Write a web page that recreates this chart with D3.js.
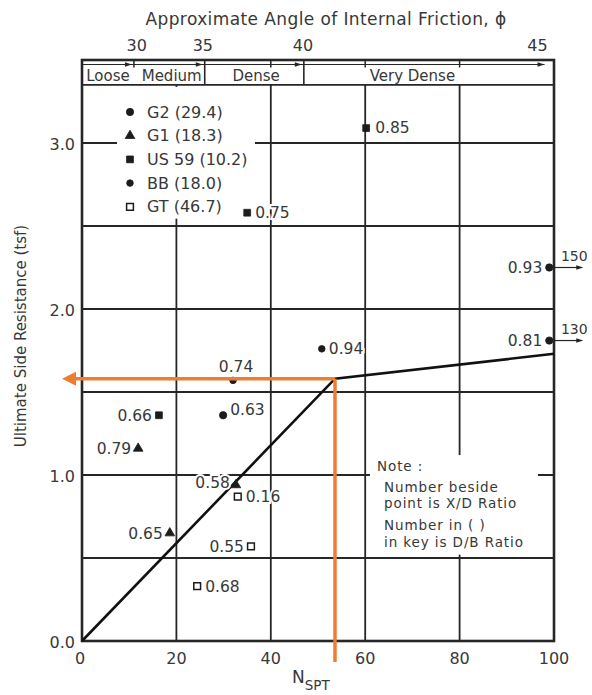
<!DOCTYPE html>
<html>
<head>
<meta charset="utf-8">
<script src="https://cdn.jsdelivr.net/npm/d3@7"></script>
<style>
  body { margin: 0; background: #fff; }
  text { font-family: "DejaVu Sans", "Liberation Sans", sans-serif; fill: #383838; }
</style>
</head>
<body>
<div id="chart"></div>
<script>
// Data
const pointLabels = ["0.85", "0.75", "0.66", "0.79", "0.58", "0.65", "0.16", "0.55", "0.68", "0.93", "0.81", "0.63", "0.94", "0.74"];
const pointSeries = ["US 59", "US 59", "US 59", "G1", "G1", "G1", "GT", "GT", "GT", "G2", "G2", "G2", "BB", "BB"];
const pointN = [60.2, 35.0, 16.3, 11.9, 32.6, 18.6, 33.0, 35.8, 24.4, 99.0, 99.0, 29.9, 50.8, 32.0];
const pointR = [3.09, 2.58, 1.36, 1.16, 0.94, 0.65, 0.87, 0.57, 0.33, 2.25, 1.81, 1.36, 1.76, 1.57];
const actualN = { "0.93": "150", "0.81": "130" };

const keySeries = ["G2", "G1", "US 59", "BB", "GT"];
const keyRatios = ["29.4", "18.3", "10.2", "18.0", "46.7"];

const trendN = [0, 53.6, 100];
const trendR = [0, 1.58, 1.73];
const readN = 53.6, readR = 1.58;

const xTicks = [0, 20, 40, 60, 80, 100];
const yTicks = [0, 1, 2, 3];
const gridX = [20, 40, 60, 80];
const gridY = [0.5, 1, 1.5, 2, 2.5, 3];
const phiTicks = [30, 35, 40, 45];
const phiN = [11.6, 25.6, 46.8, 96.5];
const densityNames = ["Loose", "Medium", "Dense", "Very Dense"];
const densityBounds = [0, 11, 26, 47, 100];

const noteLines = ["Number beside", "point is X/D Ratio", "Number in (  )", "in key is D/B Ratio"];

// Layout
const width = 592, height = 695;
const margin = { top: 60, right: 38, bottom: 54, left: 82 };
const ink = "#262626";
const densityLabelN = [5.5, 19, 36.9, 70];

const svg = d3.select("#chart").append("svg")
    .attr("width", width)
    .attr("height", height);

const x = d3.scaleLinear().domain([0, 100]).range([margin.left, width - margin.right]);
const y = d3.scaleLinear().domain([0, 3.5]).range([height - margin.bottom, margin.top]);
const rowBottom = y(3.35);

// grid
svg.append("g").selectAll("line")
    .data(gridY)
    .enter().append("line")
    .attr("x1", x(0)).attr("x2", x(100))
    .attr("y1", d => y(d)).attr("y2", d => y(d))
    .attr("stroke", ink).attr("stroke-width", 1.8);

svg.append("g").selectAll("line")
    .data(gridX)
    .enter().append("line")
    .attr("x1", d => x(d)).attr("x2", d => x(d))
    .attr("y1", y(0)).attr("y2", rowBottom)
    .attr("stroke", ink).attr("stroke-width", 1.8);

// white boxes for key and note (they hide the grid)
svg.append("rect").attr("x", 117).attr("y", rowBottom + 2).attr("width", 138).attr("height", y(2.52) - rowBottom - 6).attr("fill", "#fff");
svg.append("rect").attr("x", x(61)).attr("y", y(1.12)).attr("width", x(96.6) - x(61)).attr("height", y(0.52) - y(1.12)).attr("fill", "#fff");

// density row at top
const row = svg.append("g");
row.append("line")
    .attr("x1", x(0)).attr("x2", x(100))
    .attr("y1", rowBottom).attr("y2", rowBottom)
    .attr("stroke", ink).attr("stroke-width", 1.8);

const arrowY = margin.top + 4.5;
row.append("line")
    .attr("x1", x(0)).attr("x2", x(98))
    .attr("y1", arrowY).attr("y2", arrowY)
    .attr("stroke", ink).attr("stroke-width", 1);

row.selectAll(".arr")
    .data(densityBounds.slice(1))
    .enter().append("path")
    .attr("class", "arr")
    .attr("d", (d, i) => {
        const ax = i === 3 ? x(98) : x(d) - 2;
        return `M${ax},${arrowY}l-7,-2.2l0,4.4z`;
    })
    .attr("fill", ink);

// small ticks through the arrow line
row.selectAll(".tk")
    .data([densityBounds[1], 40, 60, 80])
    .enter().append("line")
    .attr("x1", d => x(d)).attr("x2", d => x(d))
    .attr("y1", margin.top).attr("y2", arrowY + 3)
    .attr("stroke", ink).attr("stroke-width", 1.5);

row.selectAll(".div")
    .data(densityBounds.slice(2, 4))
    .enter().append("line")
    .attr("x1", d => x(d)).attr("x2", d => x(d))
    .attr("y1", margin.top).attr("y2", rowBottom)
    .attr("stroke", ink).attr("stroke-width", 1.6);

row.selectAll("text")
    .data(densityNames)
    .enter().append("text")
    .attr("x", (d, i) => x(densityLabelN[i]))
    .attr("y", (margin.top + rowBottom) / 2 + 3)
    .attr("dy", "0.35em")
    .attr("text-anchor", "middle")
    .style("font-size", "15px")
    .text(d => d);

// plot border
svg.append("rect")
    .attr("x", x(0)).attr("y", y(3.5))
    .attr("width", x(100) - x(0)).attr("height", y(0) - y(3.5))
    .attr("fill", "none").attr("stroke", ink).attr("stroke-width", 2.6);

// axes labels
svg.append("g").selectAll("text")
    .data(xTicks)
    .enter().append("text")
    .attr("x", d => x(d) + (d === 0 ? -2 : 0))
    .attr("y", y(0) + 17)
    .attr("text-anchor", "middle")
    .attr("dy", "0.35em")
    .style("font-size", "16px")
    .text(d => d);

svg.append("g").selectAll("text")
    .data(yTicks)
    .enter().append("text")
    .attr("x", x(0) - 7)
    .attr("y", d => y(d) + 1)
    .attr("text-anchor", "end")
    .attr("dy", "0.35em")
    .style("font-size", "16px")
    .text(d => d.toFixed(1));

svg.append("g").selectAll("text")
    .data(phiTicks)
    .enter().append("text")
    .attr("x", (d, i) => x(phiN[i]))
    .attr("y", 45)
    .attr("text-anchor", "middle")
    .attr("dy", "0.35em")
    .style("font-size", "16px")
    .text(d => d);

svg.append("text")
    .attr("x", 326).attr("y", 19)
    .attr("text-anchor", "middle").attr("dy", "0.35em")
    .style("font-size", "17px")
    .style("letter-spacing", "0.4px")
    .text("Approximate Angle of Internal Friction, \u03D5");

svg.append("text")
    .attr("transform", "translate(21,336) rotate(-90)")
    .attr("text-anchor", "middle").attr("dy", "0.35em")
    .style("font-size", "15px")
    .text("Ultimate Side Resistance (tsf)");

const nLabel = svg.append("text")
    .attr("x", 292).attr("y", 683)
    .style("font-size", "17px");
nLabel.append("tspan").text("N");
nLabel.append("tspan").attr("dy", 7).style("font-size", "13.5px").text("SPT");

// trend line
const line = d3.line().x(i => x(trendN[i])).y(i => y(trendR[i]));
svg.append("path")
    .attr("d", line(d3.range(trendN.length)))
    .attr("fill", "none").attr("stroke", "#111").attr("stroke-width", 2.6);

// symbols
const symbolType = { "G2": d3.symbolCircle, "G1": d3.symbolTriangle, "US 59": d3.symbolSquare, "BB": d3.symbolCircle, "GT": d3.symbolSquare };
const symbolSize = { "G2": 42, "G1": 40, "US 59": 46, "BB": 34, "GT": 46 };
const sym = s => d3.symbol().type(symbolType[s]).size(symbolSize[s])();
const styleSym = (sel, s) => sel
    .attr("fill", s === "GT" ? "#fff" : "#1c1c1c")
    .attr("stroke", "#1c1c1c")
    .attr("stroke-width", s === "GT" ? 1.5 : 0.8);

// key
const key = svg.append("g");
keySeries.forEach((s, i) => {
    const ky = 112 + i * 23.7;
    key.append("path").attr("d", sym(s)).attr("transform", `translate(130,${ky})`).call(styleSym, s);
    key.append("text").attr("x", 147).attr("y", ky).attr("dy", "0.35em")
        .style("font-size", "16px")
        .text(`${s} (${keyRatios[i]})`);
});

// note
const note = svg.append("g").style("font-size", "13.5px").style("letter-spacing", "0.9px");
note.append("text").attr("x", 377).attr("y", 466).attr("dy", "0.35em").text("Note :");
noteLines.forEach((t, i) => {
    note.append("text").attr("x", 384).attr("y", [487, 503, 525, 542][i]).attr("dy", "0.35em").text(t);
});

// point label placement
const labelPos = {
    "0.85": [9, 0, "start"], "0.75": [8, 0, "start"], "0.66": [-7, 0, "end"],
    "0.79": [-7, 0, "end"], "0.58": [-6, -2, "end"], "0.65": [-7, 0, "end"],
    "0.16": [8, 0, "start"], "0.55": [-7, 0, "end"], "0.68": [8, 0, "start"],
    "0.93": [-7, 0, "end"], "0.81": [-7, 0, "end"], "0.63": [7, -6, "start"],
    "0.94": [7, 0, "start"], "0.74": [3, -14, "middle"]
};

const pts = svg.append("g");
pointLabels.forEach((lab, i) => {
    const px = x(pointN[i]), py = y(pointR[i]);
    const lp = labelPos[lab];
    pts.append("text")
        .attr("x", px + lp[0]).attr("y", py + lp[1])
        .attr("dy", "0.35em").attr("text-anchor", lp[2])
        .style("font-size", "15.5px")
        .attr("stroke", "#fff").attr("stroke-width", 4).attr("paint-order", "stroke")
        .text(lab);
    pts.append("path").attr("d", sym(pointSeries[i]))
        .attr("transform", `translate(${px},${py})`)
        .call(styleSym, pointSeries[i]);
    if (actualN[lab]) {
        pts.append("line")
            .attr("x1", px + 4).attr("x2", px + 30)
            .attr("y1", py).attr("y2", py)
            .attr("stroke", ink).attr("stroke-width", 1.2);
        pts.append("path").attr("d", `M${px + 34},${py}l-7,-2.2l0,4.4z`).attr("fill", ink);
        pts.append("text")
            .attr("x", px + 25).attr("y", py - 7)
            .attr("text-anchor", "middle")
            .style("font-size", "14px")
            .text(actualN[lab]);
    }
});

// orange read-off lines
const orange = "#ED7D31";
svg.append("line")
    .attr("x1", x(readN)).attr("x2", x(readN))
    .attr("y1", y(readR)).attr("y2", y(0) + 21)
    .attr("stroke", orange).attr("stroke-width", 3.5);
svg.append("line")
    .attr("x1", x(readN)).attr("x2", x(0) - 8)
    .attr("y1", y(readR)).attr("y2", y(readR))
    .attr("stroke", orange).attr("stroke-width", 3.5);
svg.append("path")
    .attr("d", `M${x(0) - 20},${y(readR)}l14,-7l0,14z`)
    .attr("fill", orange);
</script>
</body>
</html>
